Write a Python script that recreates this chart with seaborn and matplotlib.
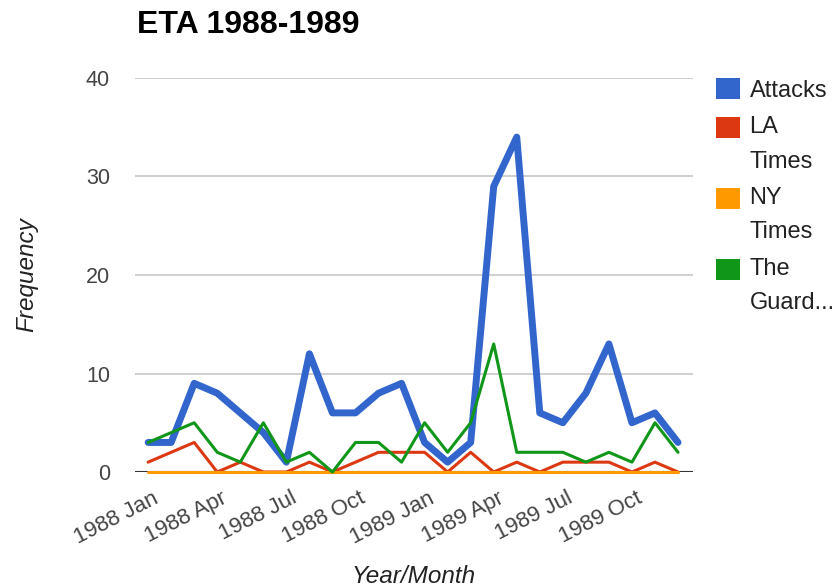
import numpy as np
import pandas as pd
import matplotlib
matplotlib.use('Agg')
import matplotlib.pyplot as plt
import matplotlib.transforms as mtransforms
from matplotlib.patches import Patch, Rectangle
from matplotlib.legend_handler import HandlerPatch
import seaborn as sns

# monthly counts, 1988 Jan .. 1989 Dec
months = [f"{yr} {m}" for yr in (1988, 1989)
          for m in ['Jan', 'Feb', 'Mar', 'Apr', 'May', 'Jun',
                    'Jul', 'Aug', 'Sep', 'Oct', 'Nov', 'Dec']]
attacks = [3, 3, 9, 8, 6, 4, 1, 12, 6, 6, 8, 9,
           3, 1, 3, 29, 34, 6, 5, 8, 13, 5, 6, 3]
la_times = [1, 2, 3, 0, 1, 0, 0, 1, 0, 1, 2, 2,
            2, 0, 2, 0, 1, 0, 1, 1, 1, 0, 1, 0]
ny_times = [0, 0, 0, 0, 0, 0, 0, 0, 0, 0, 0, 0,
            0, 0, 0, 0, 0, 0, 0, 0, 0, 0, 0, 0]
guardian = [3, 4, 5, 2, 1, 5, 1, 2, 0, 3, 3, 1,
            5, 2, 5, 13, 2, 2, 2, 1, 2, 1, 5, 2]

series = ['Attacks', 'LA Times', 'NY Times', 'The Guardian']
legend_labels = ['Attacks', 'LA\nTimes', 'NY\nTimes', 'The\nGuard...']
colors = ['#3366CC', '#DC3912', '#FF9900', '#109618']
widths = [5.0, 2.2, 2.2, 2.2]
tick_idx = [0, 3, 6, 9, 12, 15, 18, 21]

df = pd.DataFrame({
    'month': np.tile(np.arange(len(months)), len(series)),
    'count': attacks + la_times + ny_times + guardian,
    'source': np.repeat(series, len(months)),
})

sns.set_style('white')
plt.rcParams['font.family'] = ['Liberation Sans', 'DejaVu Sans']

fig = plt.figure(figsize=(8.38, 5.88), dpi=100)
ax = fig.add_axes([135/838, 1 - 472/588, (693 - 135)/838, (472 - 78)/588])

sns.lineplot(data=df, x='month', y='count', hue='source', hue_order=series,
             palette=dict(zip(series, colors)), size='source', size_order=series,
             sizes=dict(zip(series, widths)), legend=False, ax=ax, sort=False)
for ln in ax.lines:
    ln.set_clip_on(False)

ax.set_xlim(-0.57, 23.65)
ax.set_ylim(0, 40)
ax.set_yticks([0, 10, 20, 30, 40])
for v in [10, 20, 30, 40]:
    ax.axhline(v, color='#cccccc', lw=1.3, zorder=0)
ax.axhline(0, color='#333333', lw=1.5, zorder=0.5)

for s in ax.spines.values():
    s.set_visible(False)
ax.tick_params(axis='both', length=0, colors='#444444')
ax.tick_params(axis='y', pad=18, labelsize=15.5)
ax.tick_params(axis='x', labelsize=16)
ax.set_xticks(tick_idx)
ax.set_xticklabels([months[i] for i in tick_idx], rotation=27, ha='right',
                   rotation_mode='anchor')
offset = mtransforms.ScaledTranslation(4/100, -11/100, fig.dpi_scale_trans)
for lbl in ax.get_xticklabels():
    lbl.set_transform(lbl.get_transform() + offset)

ax.set_xlabel('Year/Month', style='italic', fontsize=17.5, color='#222222')
ax.set_ylabel('Frequency', style='italic', fontsize=17.5, color='#222222')
ax.xaxis.set_label_coords(0.5, -(565 - 472)/394)
ax.yaxis.set_label_coords(-(135 - 38)/558, 0.5)

fig.text(137/838, 1 - 25/588, 'ETA 1988-1989', fontsize=23, fontweight='bold',
         va='center', ha='left', color='black')


class TopSquare(HandlerPatch):
    def __init__(self, shift):
        super().__init__()
        self.shift = shift

    def create_artists(self, legend, orig_handle, xdescent, ydescent,
                       width, height, fontsize, trans):
        p = Rectangle((-xdescent, -ydescent + self.shift), width, height,
                      facecolor=orig_handle.get_facecolor(), edgecolor='none',
                      transform=trans)
        return [p]


handles = [Patch(facecolor=c) for c in colors]
hmap = {h: TopSquare(0 if '\n' not in l else 12.6)
        for h, l in zip(handles, legend_labels)}
leg = fig.legend(handles, legend_labels, loc='upper left',
                 bbox_to_anchor=(716/838, 1 - 78/588), frameon=False,
                 fontsize=17, handlelength=1.0, handleheight=1.0,
                 handletextpad=0.42, borderpad=0, borderaxespad=0,
                 labelspacing=0.62, handler_map=hmap)
for t in leg.get_texts():
    t.set_color('#222222')
    t.set_linespacing(1.72)

fig.savefig('out.png', dpi=100)
